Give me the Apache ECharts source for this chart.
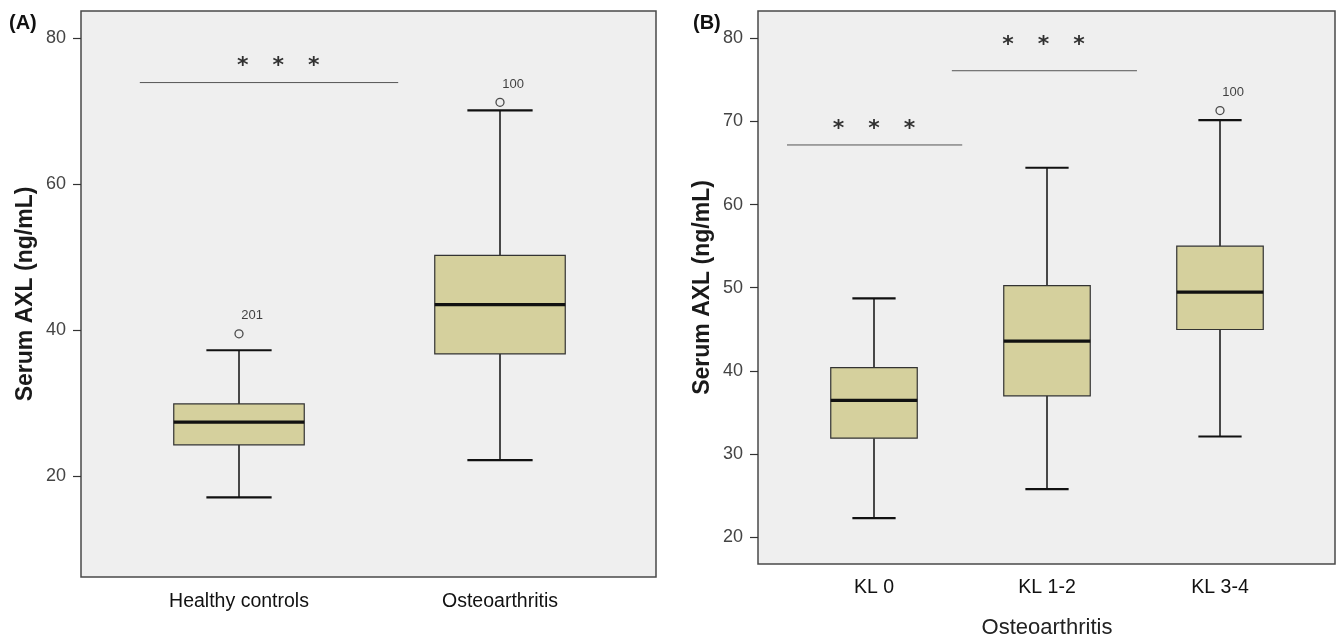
<!DOCTYPE html>
<html>
<head>
<meta charset="utf-8">
<title>Serum AXL</title>
<script src="https://cdn.jsdelivr.net/npm/echarts@6/dist/echarts.min.js"></script>
<style>
  html, body { margin: 0; padding: 0; background: #fff; }
  #chart { width: 1336px; height: 644px; }
</style>
</head>
<body>
<div id="chart"></div>
<script>
// panel A
const groupsA = ['Healthy controls', 'Osteoarthritis']
const minA = [17.1, 22.2]
const q1A = [24.3, 36.75]
const medianA = [27.4, 43.5]
const q3A = [29.9, 50.25]
const maxA = [37.25, 70.1]
const outliersA = [[0, 39.5, '201'], [1, 71.2, '100']]
const ticksA = [20, 40, 60, 80]
const sigLineA = [[-0.38, 73.9], [0.61, 73.9]]
const sigStarA = [0.15, 76.6]

// panel B
const groupsB = ['KL 0', 'KL 1-2', 'KL 3-4']
const minB = [22.15, 25.65, 32.0]
const q1B = [31.8, 36.9, 44.9]
const medianB = [36.35, 43.5, 49.4]
const q3B = [40.3, 50.2, 54.95]
const maxB = [48.65, 64.4, 70.15]
const outliersB = [[2, 71.3, '100']]
const ticksB = [20, 30, 40, 50, 60, 70, 80]
const sigLinesB = [
  [[-0.55, 67.15], [0.51, 67.15]],
  [[0.45, 76.1], [1.52, 76.1]]
]
const sigStarsB = [[0, 69.4], [0.98, 79.5]]

const sans = '"Liberation Sans", Arial, sans-serif'
const boxFill = '#d5d09d'
const frameBg = '#efefef'

const boxRows = (mins, q1s, meds, q3s, maxs) =>
  mins.map((v, i) => [i, v, q1s[i], meds[i], q3s[i], maxs[i]])

function renderBox(params, api) {
  const i = api.value(0)
  const band = api.size([1, 0])[0]
  const half = band * 0.25
  const cap = band * 0.125
  const pMin = api.coord([i, api.value(1)])
  const pQ1 = api.coord([i, api.value(2)])
  const pMed = api.coord([i, api.value(3)])
  const pQ3 = api.coord([i, api.value(4)])
  const pMax = api.coord([i, api.value(5)])
  const x = pMed[0]
  const seg = (x1, y1, x2, y2, w) => ({
    type: 'line',
    shape: { x1, y1, x2, y2 },
    style: { stroke: '#111', lineWidth: w }
  })
  return {
    type: 'group',
    children: [
      seg(x, pQ3[1], x, pMax[1], 1.5),
      seg(x, pQ1[1], x, pMin[1], 1.5),
      seg(x - cap, pMax[1], x + cap, pMax[1], 2.2),
      seg(x - cap, pMin[1], x + cap, pMin[1], 2.2),
      {
        type: 'rect',
        shape: { x: x - half, y: pQ3[1], width: half * 2, height: pQ1[1] - pQ3[1] },
        style: { fill: boxFill, stroke: '#333', lineWidth: 1.2 }
      },
      seg(x - half, pMed[1], x + half, pMed[1], 3.2)
    ]
  }
}

function panel(idx, cfg) {
  const g = idx * 2
  const xa = idx * 3
  const ya = idx * 2
  const grids = [
    {
      left: cfg.frame[0], top: 11, width: cfg.frame[1], height: cfg.frameH,
      show: true, backgroundColor: frameBg, borderColor: '#4a4a4a', borderWidth: 1.5
    },
    { left: cfg.inner[0], top: 11, width: cfg.inner[1], height: cfg.frameH }
  ]
  const xAxes = [
    { gridIndex: g, type: 'value', show: false },
    {
      gridIndex: g + 1,
      type: 'category',
      data: cfg.groups,
      axisLine: { show: false },
      axisTick: { alignWithLabel: true, length: 10, lineStyle: { color: '#333', width: 1.2 } },
      axisLabel: { color: '#111', fontFamily: sans, fontSize: 19.5, margin: 15 },
      name: cfg.xName,
      nameLocation: 'middle',
      nameGap: 54,
      nameTextStyle: { color: '#222', fontFamily: sans, fontSize: 22 }
    },
    { gridIndex: g + 1, type: 'value', min: -0.5, max: cfg.groups.length - 0.5, show: false }
  ]
  const yAxes = [
    {
      gridIndex: g,
      type: 'value',
      min: cfg.yMin,
      max: cfg.yMax,
      axisLine: { show: false },
      splitLine: { show: false },
      axisTick: { show: true, length: 8, customValues: cfg.ticks, lineStyle: { color: '#333', width: 1.2 } },
      axisLabel: {
        customValues: cfg.ticks, color: '#444', fontFamily: sans, fontSize: 18, margin: 15
      },
      name: 'Serum AXL (ng/mL)',
      nameLocation: 'middle',
      nameGap: 44,
      nameTextStyle: { color: '#1a1a1a', fontFamily: sans, fontWeight: 'bold', fontSize: 23 }
    },
    { gridIndex: g + 1, type: 'value', min: cfg.yMin, max: cfg.yMax, show: false }
  ]
  const series = [
    {
      type: 'custom',
      xAxisIndex: xa + 1,
      yAxisIndex: ya + 1,
      renderItem: renderBox,
      encode: { x: 0, y: [1, 2, 3, 4, 5] },
      data: cfg.boxes,
      silent: true
    },
    {
      type: 'scatter',
      xAxisIndex: xa + 1,
      yAxisIndex: ya + 1,
      symbol: 'circle',
      symbolSize: 8,
      itemStyle: { color: 'rgba(0,0,0,0)', borderColor: '#222', borderWidth: 1.3 },
      label: {
        show: true, formatter: '{b}', position: [7, -20],
        color: '#111', fontFamily: sans, fontSize: 13
      },
      data: cfg.outliers.map(o => ({ value: [o[0], o[1]], name: o[2] })),
      silent: true
    }
  ]
  cfg.sigLines.forEach(line => {
    series.push({
      type: 'line',
      xAxisIndex: xa + 2,
      yAxisIndex: ya + 1,
      data: line,
      symbol: 'none',
      clip: false,
      silent: true,
      lineStyle: { color: '#555', width: 1 }
    })
  })
  series.push({
    type: 'scatter',
    xAxisIndex: xa + 2,
    yAxisIndex: ya + 1,
    symbolSize: 1,
    itemStyle: { color: 'rgba(0,0,0,0)' },
    label: {
      show: true,
      position: 'inside',
      offset: [0, 3],
      formatter: '{a|*}{a|*}{a|*}',
      rich: {
        a: { fontFamily: 'DejaVu Sans', fontWeight: 'bold', fontSize: 22, color: '#000', padding: [0, 12] }
      }
    },
    data: cfg.stars,
    clip: false,
    silent: true
  })
  return { grids, xAxes, yAxes, series }
}

const pA = panel(0, {
  frame: [81, 575], inner: [108.5, 522], frameH: 566,
  groups: groupsA, xName: '',
  yMin: 6.2, yMax: 83.7, ticks: ticksA,
  boxes: boxRows(minA, q1A, medianA, q3A, maxA),
  outliers: outliersA,
  sigLines: [sigLineA],
  stars: [sigStarA]
})
const pB = panel(1, {
  frame: [758, 577], inner: [787.5, 519], frameH: 553,
  groups: groupsB, xName: 'Osteoarthritis',
  yMin: 16.75, yMax: 83.3, ticks: ticksB,
  boxes: boxRows(minB, q1B, medianB, q3B, maxB),
  outliers: outliersB,
  sigLines: sigLinesB,
  stars: sigStarsB
})

const chart = echarts.init(document.getElementById('chart'))
chart.setOption({
  animation: false,
  backgroundColor: '#fff',
  grid: [...pA.grids, ...pB.grids],
  xAxis: [...pA.xAxes, ...pB.xAxes],
  yAxis: [...pA.yAxes, ...pB.yAxes],
  series: [...pA.series, ...pB.series],
  graphic: [
    {
      type: 'text', left: 9, top: 13,
      style: { text: '(A)', font: 'bold 20px "Liberation Sans", Arial, sans-serif', fill: '#111' }
    },
    {
      type: 'text', left: 693, top: 13,
      style: { text: '(B)', font: 'bold 20px "Liberation Sans", Arial, sans-serif', fill: '#111' }
    }
  ]
})
</script>
</body>
</html>
